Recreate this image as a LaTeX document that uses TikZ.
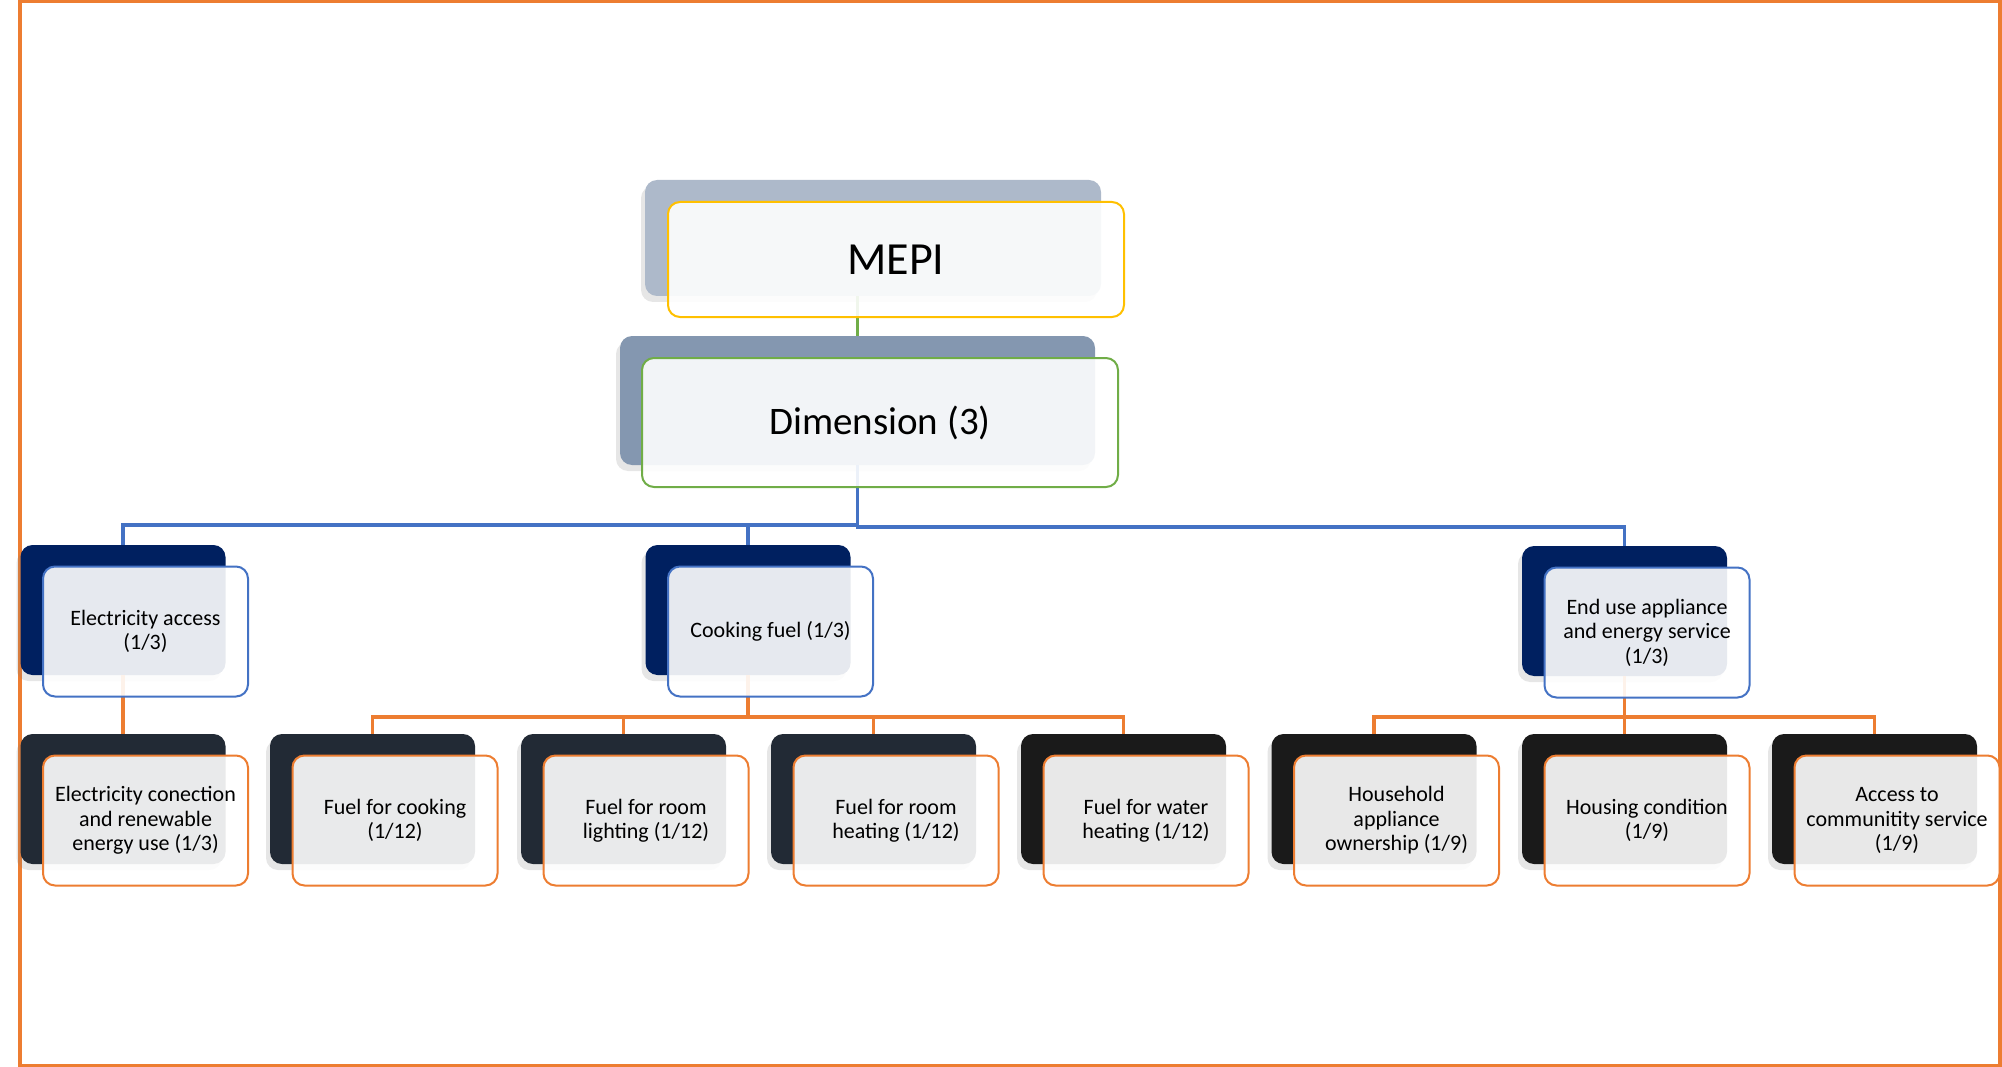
\documentclass[tikz,border=0pt]{standalone}
\usepackage{fontspec}
\setmainfont{Carlito}
\usepackage{xcolor}
\usetikzlibrary{shadows, positioning, calc}

\definecolor{accOrange}{HTML}{ED7D31}
\definecolor{accBlue}{HTML}{4472C4}
\definecolor{accGreen}{HTML}{70AD47}
\definecolor{accGold}{HTML}{FFC000}
\definecolor{greyBlueA}{HTML}{ADB9CA}
\definecolor{greyBlueB}{HTML}{8497B0}
\definecolor{navyBack}{HTML}{002060}
\definecolor{slateBack}{HTML}{222A35}
\definecolor{blackBack}{HTML}{1A1A1A}

\begin{document}
\begin{tikzpicture}[
    x=1pt, y=-1pt,
    back/.style={rectangle, rounded corners=12pt, inner sep=0pt, minimum width=205pt, minimum height=130pt,
        drop shadow={shadow xshift=-4pt, shadow yshift=-6pt, opacity=0.2}},
    front/.style={rectangle, rounded corners=12pt, inner sep=0pt, minimum width=205pt, minimum height=130pt,
        fill=white, fill opacity=0.9, text opacity=1, line width=2pt, align=center,
        font=\fontsize{22}{24.5}\selectfont},
    link/.style={line width=3.8pt}
]
    \useasboundingbox (0,0) rectangle (2002,1067);

    % --- outer frame ---
    \draw[accOrange, line width=3.5pt] (20,1.5) rectangle (2000,1065.3);

    % --- back cards ---
    \node[back, fill=greyBlueA, minimum width=456pt, minimum height=116pt] (l0b) at (873, 238) {};
    \node[back, fill=greyBlueB, minimum width=475pt, minimum height=129pt] (l1b) at (857.5, 400.5) {};

    \node[back, fill=navyBack] (l2c1b) at (123, 610) {};
    \node[back, fill=navyBack] (l2c2b) at (748, 610) {};
    \node[back, fill=navyBack] (l2c3b) at (1624.5, 611) {};

    \node[back, fill=slateBack] (l3c1b) at (123, 799) {};
    \node[back, fill=slateBack] (l3c2b) at (372.5, 799) {};
    \node[back, fill=slateBack] (l3c3b) at (623.5, 799) {};
    \node[back, fill=slateBack] (l3c4b) at (873.5, 799) {};
    \node[back, fill=blackBack] (l3c5b) at (1123.5, 799) {};
    \node[back, fill=blackBack] (l3c6b) at (1374, 799) {};
    \node[back, fill=blackBack] (l3c7b) at (1624.5, 799) {};
    \node[back, fill=blackBack] (l3c8b) at (1874.5, 799) {};

    % --- connectors ---
    \draw[link, accGreen] (l1b.north) -- (l1b.north |- l0b.south);

    \draw[link, accBlue] (l1b.south) -- ++(0,59.5) -| (l2c1b.north);
    \draw[link, accBlue] (l1b.south) -- ++(0,59.5) -| (l2c2b.north);
    \draw[link, accBlue] (l1b.south) -- ++(0,62) -| (l2c3b.north);

    \draw[link, accOrange] (l2c1b.south) -- (l3c1b.north);
    \draw[link, accOrange] (l2c2b.south) -- ++(0,42) -| (l3c2b.north);
    \draw[link, accOrange] (l2c2b.south) -- ++(0,42) -| (l3c3b.north);
    \draw[link, accOrange] (l2c2b.south) -- ++(0,42) -| (l3c4b.north);
    \draw[link, accOrange] (l2c2b.south) -- ++(0,42) -| (l3c5b.north);
    \draw[link, accOrange] (l2c3b.south) -- ++(0,41) -| (l3c6b.north);
    \draw[link, accOrange] (l2c3b.south) -- ++(0,41) -| (l3c7b.north);
    \draw[link, accOrange] (l2c3b.south) -- ++(0,41) -| (l3c8b.north);

    % --- front cards ---
    \node[front, draw=accGold, minimum width=456pt, minimum height=115pt, font=\fontsize{46}{54}\selectfont]
        (l0f) at ([shift={(23,21.5)}]l0b.center) {MEPI};
    \node[front, draw=accGreen, minimum width=476pt, minimum height=129pt, font=\fontsize{39}{46}\selectfont]
        (l1f) at ([shift={(22.5,22)}]l1b.center) {Dimension (3)};

    \node[front, draw=accBlue] (l2c1f) at ([shift={(22.5,21.5)}]l2c1b.center) {Electricity access\\(1/3)};
    \node[front, draw=accBlue] (l2c2f) at ([shift={(22.5,21.5)}]l2c2b.center) {Cooking fuel (1/3)};
    \node[front, draw=accBlue] (l2c3f) at ([shift={(22.5,21.5)}]l2c3b.center) {End use appliance\\and energy service\\(1/3)};

    \node[front, draw=accOrange] (l3c1f) at ([shift={(22.5,21.5)}]l3c1b.center) {Electricity conection\\and renewable\\energy use (1/3)};
    \node[front, draw=accOrange] (l3c2f) at ([shift={(22.5,21.5)}]l3c2b.center) {Fuel for cooking\\(1/12)};
    \node[front, draw=accOrange] (l3c3f) at ([shift={(22.5,21.5)}]l3c3b.center) {Fuel for room\\lighting (1/12)};
    \node[front, draw=accOrange] (l3c4f) at ([shift={(22.5,21.5)}]l3c4b.center) {Fuel for room\\heating (1/12)};
    \node[front, draw=accOrange] (l3c5f) at ([shift={(22.5,21.5)}]l3c5b.center) {Fuel for water\\heating (1/12)};
    \node[front, draw=accOrange] (l3c6f) at ([shift={(22.5,21.5)}]l3c6b.center) {Household\\appliance\\ownership (1/9)};
    \node[front, draw=accOrange] (l3c7f) at ([shift={(22.5,21.5)}]l3c7b.center) {Housing condition\\(1/9)};
    \node[front, draw=accOrange] (l3c8f) at ([shift={(22.5,21.5)}]l3c8b.center) {Access to\\communitity service\\(1/9)};
\end{tikzpicture}
\end{document}
